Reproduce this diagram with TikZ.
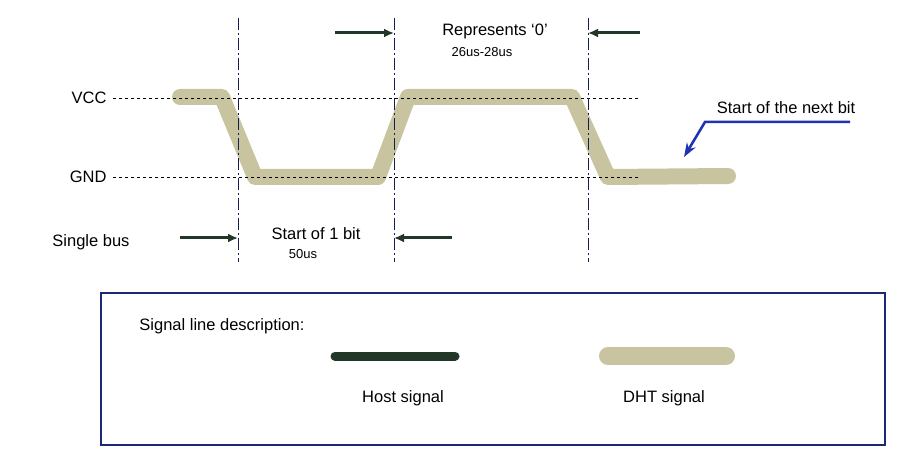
\documentclass[tikz,border=0pt]{standalone}
\usepackage{fontspec}
\setmainfont{Liberation Sans}
\usetikzlibrary{arrows.meta}
\definecolor{tan}{RGB}{200,196,160}
\definecolor{host}{RGB}{35,55,40}
\definecolor{navy}{RGB}{30,40,120}
\definecolor{arrb}{RGB}{30,50,180}
\tikzset{
  dht/.style={line width=16pt,tan,line cap=round,line join=round},
  hostl/.style={line width=9pt,host,line cap=round},
  hmark/.style={line width=3pt,host,-{Latex[length=10pt,width=9pt]}},
  vline/.style={dash pattern=on 12pt off 3pt on 2pt off 3pt,navy!70!black,line width=1pt},
  hdash/.style={dashed,line width=0.8pt},
  lbl/.style={font=\fontsize{16.5}{18}\selectfont},
  sml/.style={font=\fontsize{13}{15}\selectfont}
}
\begin{document}
\begin{tikzpicture}[x=1pt,y=-1pt]
\useasboundingbox (0,0) rectangle (900,465);
\fill[white] (0,0) rectangle (900,465);
% DHT signal
\draw[dht] (180,97) -- (222,97) -- (255,177) -- (378,177) -- (408,97) -- (572,97) -- (608,177) -- (728,176);
% dashed levels
\draw[hdash] (113,98) -- (640,98);
\draw[hdash] (113,177) -- (640,177);
% vertical lines
\foreach \x/\n in {238/a,394/b,588/c}{
  \coordinate (\n t) at (\x,18); \coordinate (\n b) at (\x,262);
  \draw[vline] (\n t) -- (\n b);
}
% arrows
\coordinate (p1) at (335,33); \coordinate (q1) at (394,33);
\coordinate (p2) at (640,33); \coordinate (q2) at (588,33);
\coordinate (p3) at (180,238); \coordinate (q3) at (238,238);
\coordinate (p4) at (452,238); \coordinate (q4) at (394,238);
\draw[hmark] (p1) -- (q1);
\draw[hmark] (p2) -- (q2);
\draw[hmark] (p3) -- (q3);
\draw[hmark] (p4) -- (q4);
% labels
\node[lbl] (rep) at (495,31) {Represents ‘0’};
\node[sml] (r26) at (482,52) {26us-28us};
\node[lbl] (s1) at (316,234) {Start of 1 bit};
\node[sml] (s50) at (303,254) {50us};
\node[lbl,anchor=east] (vcc) at (110,98) {VCC};
\node[lbl,anchor=east] (gnd) at (110,177) {GND};
\node[lbl] (sb) at (91,242) {Single bus};
\node[lbl] (nb) at (786,108) {Start of the next bit};
\coordinate (nb1) at (850,122); \coordinate (nb2) at (705,122); \coordinate (nb3) at (684,157);
\draw[arrb,line width=2.5pt,-{Stealth[length=14pt,width=10pt]}] (nb1) -- (nb2) -- (nb3);
% legend box
\draw[navy,line width=2.5pt] (101,293) rectangle (885,445);
\node[lbl] (sld) at (222,326) {Signal line description:};
\coordinate (h1) at (335,356); \coordinate (h2) at (455,356);
\draw[hostl] (h1) -- (h2);
\coordinate (d1) at (608,356); \coordinate (d2) at (726,356);
\draw[dht,line width=18pt] (d1) -- (d2);
\node[lbl] (hs) at (403,398) {Host signal};
\node[lbl] (ds) at (664,398) {DHT signal};
\end{tikzpicture}
\end{document}
